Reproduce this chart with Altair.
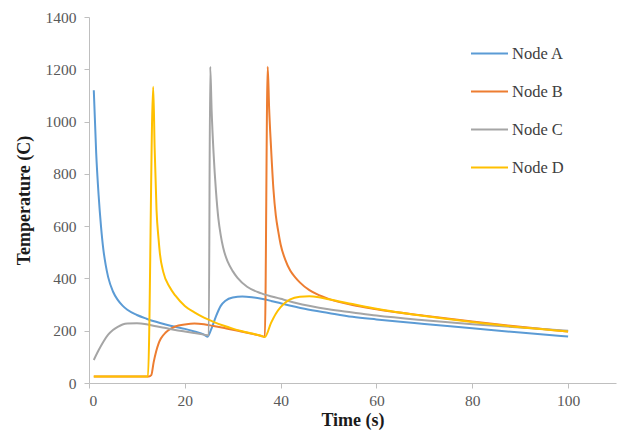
import altair as alt
import pandas as pd

# Node A (blue)
A_t = [1, 1.5, 2, 2.5, 3, 3.5, 4, 5, 6, 7, 8, 10, 12, 14, 16, 18, 20, 22, 24, 24.7,
       25.5, 26.5, 27.5, 28.5, 30, 32, 34, 36, 38, 40, 45, 50, 55, 60, 65, 70, 80, 90, 100]
A_v = [1120, 880, 720, 600, 510, 450, 405, 350, 318, 296, 280, 260, 246, 234, 224, 215, 207, 197, 185, 177,
       205, 255, 295, 315, 327, 331, 328, 322, 314, 305, 284, 268, 253, 243, 234, 226, 209, 193, 178]

# Node B (orange)
B_t = [1, 12.5, 13, 13.5, 14, 14.5, 15, 16, 17, 18, 20, 22, 24, 26, 28, 30, 32, 34, 36, 36.7,
       37.3, 37.6, 38, 38.5, 39, 39.5, 40, 41, 42, 43, 44, 46, 48, 50, 55, 60, 70, 80, 90, 100]
B_v = [25, 25, 30, 80, 120, 150, 170, 193, 207, 216, 224, 228, 225, 218, 211, 204, 196, 188, 180, 176,
       1210, 1050, 900, 740, 640, 580, 530, 470, 430, 405, 385, 355, 336, 322, 298, 282, 257, 235, 215, 197]

# Node C (gray)
C_t = [1, 2, 3, 4, 5, 6, 7, 8, 10, 12, 14, 16, 18, 20, 22, 24, 25,
       25.3, 25.6, 26, 26.5, 27, 27.5, 28, 29, 30, 31, 33, 36, 40, 43, 50, 55, 60, 70, 80, 90, 100]
C_v = [88, 125, 158, 185, 203, 215, 224, 228, 229, 225, 217, 210, 203, 197, 191, 185, 182,
       1210, 1040, 880, 735, 630, 565, 518, 462, 428, 402, 368, 343, 322, 307, 282, 270, 258, 240, 225, 212, 200]

# Node D (yellow)
D_t = [1, 12.3, 13.4, 13.7, 14.1, 14.5, 14.8, 15.5, 16.8, 18, 20, 22, 24, 26, 28, 30, 32, 34, 36, 36.7,
       38, 39, 40, 41, 42, 44, 46, 48, 50, 55, 60, 70, 80, 90, 100]
D_v = [25, 25, 1133, 900, 660, 555, 495, 425, 368, 335, 295, 270, 250, 234, 220, 208, 198, 189, 180, 176,
       230, 265, 290, 308, 320, 330, 332, 328, 320, 302, 284, 256, 233, 213, 197]

series_names = ["Node A", "Node B", "Node C", "Node D"]
series_colors = ["#5B9BD5", "#ED7D31", "#A5A5A5", "#FFC000"]
x_ticks = [0, 20, 40, 60, 80, 100]
y_ticks = [0, 200, 400, 600, 800, 1000, 1200, 1400]

rows = []
for name, ts, vs in zip(series_names, [A_t, B_t, C_t, D_t], [A_v, B_v, C_v, D_v]):
    for t, v in zip(ts, vs):
        rows.append({"Node": name, "Time": t, "Temp": v})
df = pd.DataFrame(rows)

font = "Liberation Serif"

chart = alt.Chart(df).mark_line(strokeWidth=2, interpolate="monotone").encode(
    x=alt.X("Time:Q",
            scale=alt.Scale(domain=[0, 110], nice=False, zero=False),
            axis=alt.Axis(values=x_ticks, title="Time (s)", grid=False, format="d",
                          domainColor="#BFBFBF", tickColor="#BFBFBF", tickSize=5,
                          labelFont=font, labelFontSize=15.5, labelColor="#595959",
                          labelPadding=5, titleFont=font, titleFontSize=18,
                          titleFontWeight="bold", titleColor="#1a1a1a", titlePadding=3)),
    y=alt.Y("Temp:Q",
            scale=alt.Scale(domain=[0, 1400], nice=False),
            axis=alt.Axis(values=y_ticks, title="Temperature (C)", grid=False, format="d",
                          domainColor="#BFBFBF", tickColor="#BFBFBF", tickSize=5,
                          labelFont=font, labelFontSize=15.5, labelColor="#595959",
                          labelPadding=8, titleFont=font, titleFontSize=18,
                          titleFontWeight="bold", titleColor="#1a1a1a", titlePadding=12)),
    color=alt.Color("Node:N",
                    scale=alt.Scale(domain=series_names, range=series_colors),
                    legend=alt.Legend(orient="none", legendX=381, legendY=17, title=None,
                                      symbolType="stroke", symbolSize=1369, symbolStrokeWidth=2,
                                      labelFont=font, labelFontSize=16.5, labelColor="#404040",
                                      rowPadding=10, labelOffset=3, padding=0)),
).properties(
    width=527, height=366,
    autosize=alt.AutoSizeParams(type="none"),
    padding={"left": 89, "top": 17, "right": 9, "bottom": 56},
).configure_view(stroke=None)

chart.save("out.html", embed_options={"renderer": "svg", "actions": False})
